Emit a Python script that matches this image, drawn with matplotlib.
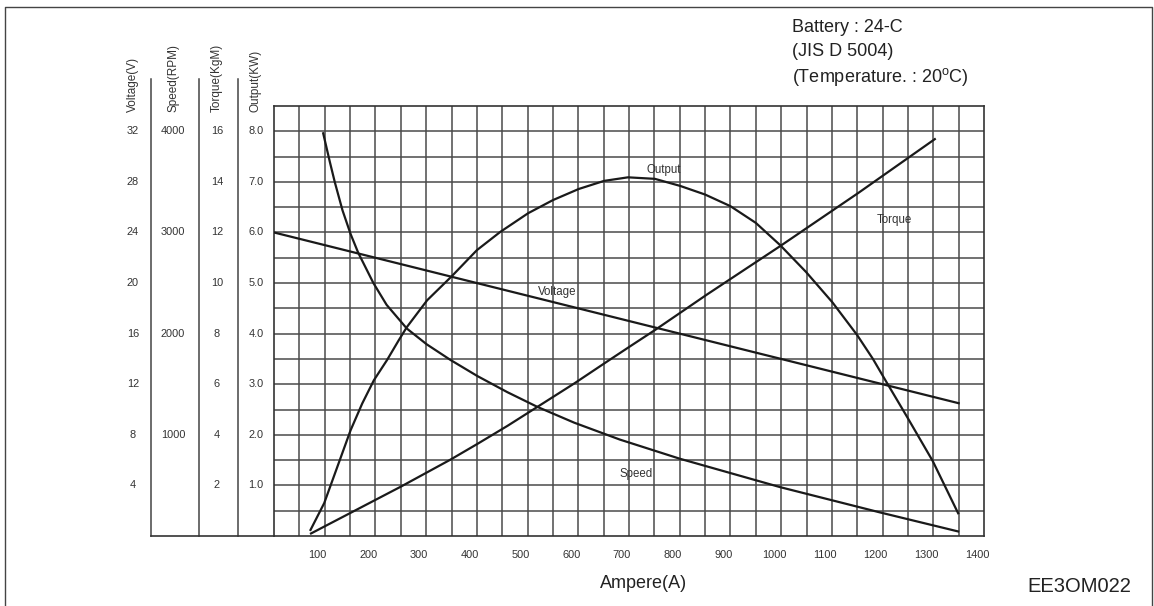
import numpy as np
import matplotlib
matplotlib.use('Agg')
import matplotlib.pyplot as plt
import matplotlib.transforms as mtransforms
from matplotlib.lines import Line2D

plt.rcParams['font.family'] = ['Liberation Sans', 'DejaVu Sans']
plt.rcParams['mathtext.fontset'] = 'custom'
plt.rcParams['mathtext.rm'] = 'Liberation Sans'

# --- Starter motor characteristics (current in A) ---
voltage_amp = [0, 1350]
voltage_v = [24.0, 10.5]

speed_amp = [97, 110, 120, 135, 151, 166, 196, 222, 262, 301, 348, 401, 460, 519, 592,
             682, 800, 998, 1195, 1349]
speed_rpm = [3980, 3700, 3495, 3220, 2985, 2800, 2500, 2285, 2050, 1895, 1740, 1581, 1422, 1277, 1120,
             953, 764, 483, 233, 45]

torque_amp = [73, 250, 348, 401, 460, 519, 592, 657, 703, 751, 854, 998, 1152, 1303]
torque_kgm = [0.1, 1.95, 3.02, 3.64, 4.35, 5.1, 6.03, 6.9, 7.51, 8.14, 9.55, 11.46, 13.56, 15.69]

output_amp = [72, 99, 125, 151, 174, 197, 223, 246, 262, 302, 351, 400, 446, 501, 550, 601, 651,
              698, 751, 801, 850, 900, 950, 998, 1049, 1101, 1150, 1181, 1209, 1248, 1299, 1349]
output_kw = [0.12, 0.65, 1.37, 2.09, 2.62, 3.08, 3.48, 3.87, 4.13, 4.66, 5.14, 5.65, 6.01, 6.38, 6.64,
             6.86, 7.02, 7.09, 7.06, 6.92, 6.75, 6.52, 6.19, 5.75, 5.22, 4.62, 3.97, 3.50, 3.02,
             2.36, 1.48, 0.45]

ampere_ticks = list(range(100, 1401, 100))
output_ticks = [1, 2, 3, 4, 5, 6, 7, 8]
voltage_labels = ['4', '8', '12', '16', '20', '24', '28', '32']
speed_labels = ['', '1000', '', '2000', '', '3000', '', '4000']
torque_labels = ['2', '4', '6', '8', '10', '12', '14', '16']
output_labels = ['1.0', '2.0', '3.0', '4.0', '5.0', '6.0', '7.0', '8.0']

# every curve is drawn on the Output(KW) scale: 1 KW = 4 V = 500 RPM = 2 KgM
V_PER_KW = 4.0
RPM_PER_KW = 500.0
KGM_PER_KW = 2.0

W, H = 1154, 606
fig = plt.figure(figsize=(W / 100, H / 100), dpi=100)
ax = fig.add_axes([274 / W, (H - 536) / H, 710 / W, 430 / H])
ax.set_xlim(0, 1400)
ax.set_ylim(0, 8.5)

grid_color = '#4a4a4a'
for x in np.arange(50, 1400, 50):
    ax.axvline(x, color=grid_color, lw=1.1, zorder=1)
for y in np.arange(0.5, 8.5, 0.5):
    ax.axhline(y, color=grid_color, lw=1.1, zorder=1)
for s in ax.spines.values():
    s.set_color('#333333')
    s.set_linewidth(1.2)

line_kw = dict(color='#1a1a1a', lw=1.6, zorder=3, solid_joinstyle='round')
ax.plot(voltage_amp, np.array(voltage_v) / V_PER_KW, **line_kw)
ax.plot(speed_amp, np.array(speed_rpm) / RPM_PER_KW, **line_kw)
ax.plot(torque_amp, np.array(torque_kgm) / KGM_PER_KW, **line_kw)
ax.plot(output_amp, output_kw, **line_kw)

lbl = dict(fontsize=8.3, color='#333333', ha='center', va='center', zorder=4)
ax.text(769, 7.23, 'Output', **lbl)
ax.text(558, 4.82, 'Voltage', **lbl)
ax.text(1224, 6.25, 'Torque', **lbl)
ax.text(714, 1.23, 'Speed', **lbl)

# ticks
ax.set_xticks(ampere_ticks)
ax.set_xticklabels([str(t) for t in ampere_ticks], fontsize=7.9, color='#333333')
ax.tick_params(axis='x', length=0, pad=10)
shift = mtransforms.ScaledTranslation(-7 / 100, 0, fig.dpi_scale_trans)
for t in ax.get_xticklabels():
    t.set_transform(t.get_transform() + shift)

ax.set_yticks(output_ticks)
ax.set_yticklabels([])
ax.tick_params(axis='y', length=0)

# left-hand scale columns
trans = mtransforms.blended_transform_factory(fig.transFigure, ax.transData)
columns = [
    (133, voltage_labels, 'Voltage(V)'),
    (173, speed_labels, 'Speed(RPM)'),
    (217, torque_labels, 'Torque(KgM)'),
    (256, output_labels, 'Output(KW)'),
]
for xc, labels, title in columns:
    for yv, s in zip(output_ticks, labels):
        if s:
            ax.text(xc / W, yv, s, transform=trans, fontsize=7.9, color='#333333',
                    ha='center', va='center', clip_on=False)
    fig.text(xc / W, (H - 112) / H, title, rotation=90, fontsize=8.5, color='#333333',
             ha='center', va='bottom')

for xs in (151, 199, 238):
    fig.add_artist(Line2D([xs / W, xs / W], [(H - 79) / H, (H - 536) / H],
                          color='#444444', lw=1.1, transform=fig.transFigure))
fig.add_artist(Line2D([151 / W, 274 / W], [(H - 536) / H, (H - 536) / H],
                      color='#333333', lw=1.2, transform=fig.transFigure))

# outer frame (left, top, right)
fig.add_artist(Line2D([5 / W, 5 / W, 1152 / W, 1152 / W], [0, (H - 7) / H, (H - 7) / H, 0],
                      color='#444444', lw=1.0, transform=fig.transFigure))

# notes and captions
note = dict(fontsize=13, color='#222222', ha='left', va='center')
fig.text(792 / W, (H - 27) / H, 'Battery : 24-C', **note)
fig.text(792 / W, (H - 52) / H, '(JIS D 5004)', **note)
fig.text(792 / W, (H - 77) / H, '(Temperature. : 20$^{\\mathrm{o}}$C)', **note)

fig.text(644 / W, (H - 583) / H, 'Ampere(A)', fontsize=13, color='#222222', ha='center', va='center')
fig.text(1079 / W, (H - 587) / H, 'EE3OM022', fontsize=14.5, color='#222222', ha='center', va='center')

fig.savefig('out.png', dpi=100, facecolor='white')
